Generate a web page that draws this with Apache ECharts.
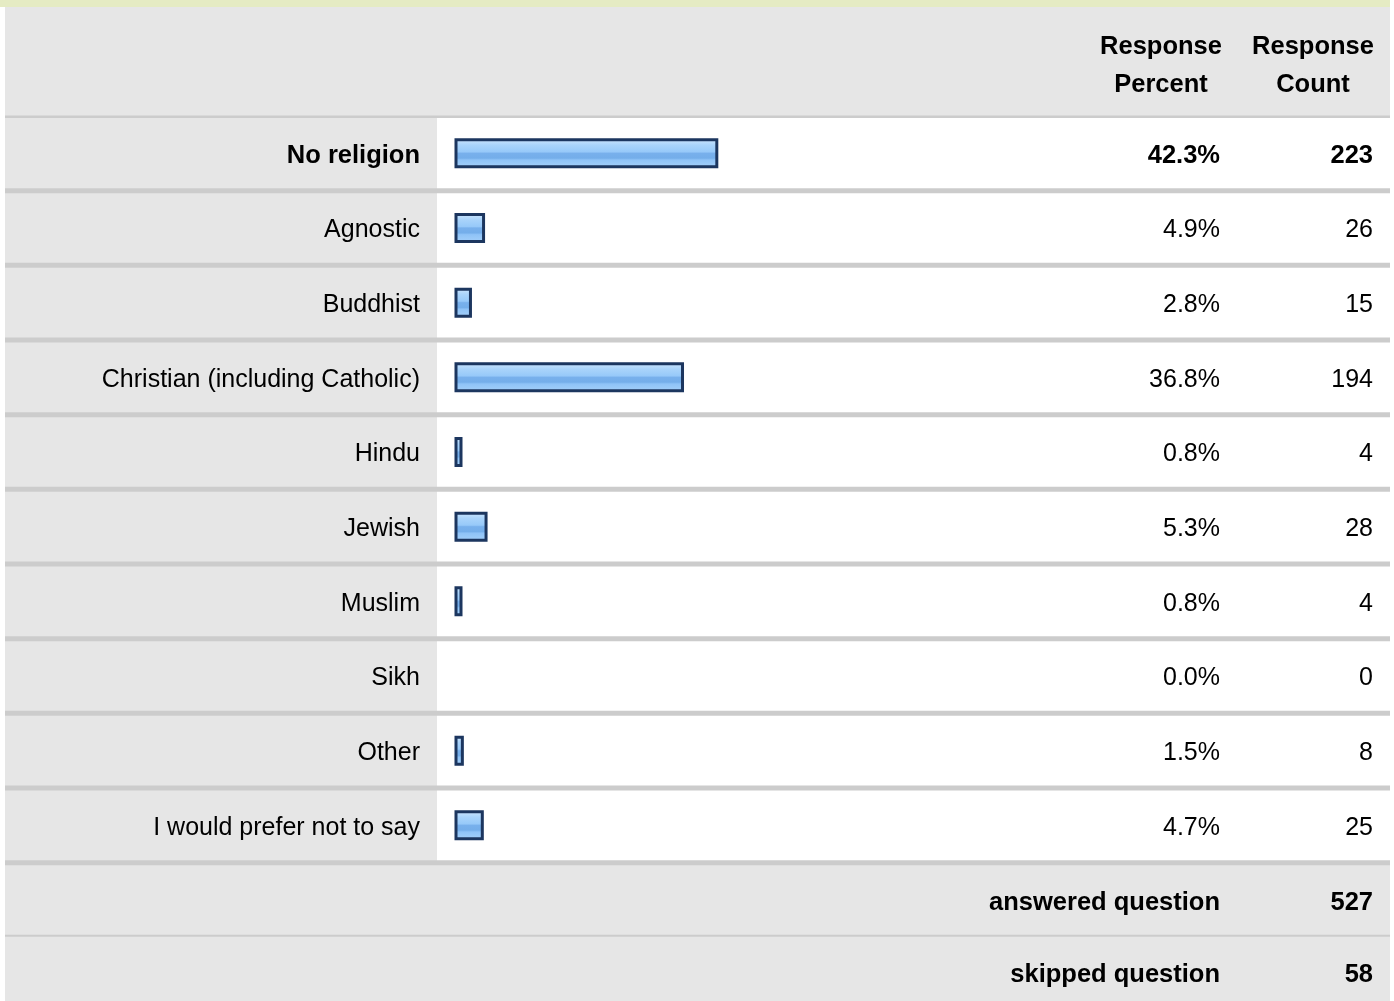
<!DOCTYPE html>
<html>
<head>
<meta charset="utf-8">
<script src="https://cdn.jsdelivr.net/npm/echarts@6/dist/echarts.min.js"></script>
<style>
html,body{margin:0;padding:0;background:#fff;}
#main{width:1394px;height:1001px;}
</style>
</head>
<body>
<div id="main"></div>
<script>
const categories = ['No religion','Agnostic','Buddhist','Christian (including Catholic)','Hindu','Jewish','Muslim','Sikh','Other','I would prefer not to say'];
const percents = [42.3, 4.9, 2.8, 36.8, 0.8, 5.3, 0.8, 0.0, 1.5, 4.7];
const counts = [223, 26, 15, 194, 4, 28, 4, 0, 8, 25];
const headerLabels = ['Response\nPercent', 'Response\nCount'];
const footerLabels = ['answered question', 'skipped question'];
const footerValues = [527, 58];

const FONT = '"Liberation Sans", Arial, sans-serif';
const FS = 25;
const FSB = 25.5;
const chart = echarts.init(document.getElementById('main'), null, {renderer: 'canvas'});

function boldFirst(v, i) { return i === 0 ? '{b|' + v + '}' : '{n|' + v + '}'; }
const rich = {
  b: {fontWeight: 'bold', fontSize: FSB, fontFamily: FONT, color: '#000', padding: [5, 0, 0, 0]},
  n: {fontSize: FS, fontFamily: FONT, color: '#000', padding: [5, 0, 0, 0]}
};
function catAxis(data, extra) {
  return Object.assign({
    type: 'category', data: data, inverse: true,
    axisLine: {show: false}, axisTick: {show: false}, splitLine: {show: false}
  }, extra);
}

const GRID_TOP = 116, GRID_H = 746.7;

const option = {
  animation: false,
  grid: {left: 454.5, right: 4, top: GRID_TOP, height: GRID_H, containLabel: false},
  xAxis: {type: 'value', min: 0, max: 150, show: false},
  yAxis: [
    catAxis(categories, {position: 'left', axisLabel: {margin: 34.5, formatter: boldFirst, rich: rich}}),
    catAxis(percents.map(p => p.toFixed(1) + '%'), {position: 'right', offset: 0,
      axisLabel: {inside: true, align: 'right', margin: 170, formatter: boldFirst, rich: rich}}),
    catAxis(counts.map(String), {position: 'right', offset: 0,
      axisLabel: {inside: true, align: 'right', margin: 17, formatter: boldFirst, rich: rich}})
  ],
  series: [{
    type: 'bar',
    yAxisIndex: 0,
    silent: true,
    barWidth: 30,
    barMinHeight: 8,
    data: percents.map(p => p === 0 ? {value: p, itemStyle: {borderWidth: 0, opacity: 0}} : p),
    itemStyle: {
      borderColor: '#1c365f',
      borderWidth: 3,
      color: new echarts.graphic.LinearGradient(0, 0, 0, 1, [
        {offset: 0, color: '#d2e8fd'},
        {offset: 0.22, color: '#aad4fb'},
        {offset: 0.45, color: '#97c9f9'},
        {offset: 0.5, color: '#78b0ec'},
        {offset: 0.66, color: '#74aeea'},
        {offset: 0.72, color: '#8fc3f7'},
        {offset: 1, color: '#a6d1fa'}
      ])
    }
  }]
};
chart.setOption(option);

// Layout graphics (backgrounds, separators, header, footer) derived from the category scale
const yc = i => chart.convertToPixel({yAxisIndex: 0}, i);
const band = yc(1) - yc(0);
const lastBoundary = yc(categories.length - 1) + band / 2;
const g = [];
g.push({type: 'rect', z: -10, shape: {x: 0, y: 0, width: 1390, height: 7}, style: {fill: '#e5ebc3'}});
g.push({type: 'rect', z: -10, shape: {x: 5, y: 7, width: 1385, height: 994}, style: {fill: '#e6e6e6'}});
g.push({type: 'rect', z: -9, shape: {x: 437, y: GRID_TOP, width: 953, height: lastBoundary - GRID_TOP}, style: {fill: '#ffffff'}});
g.push({type: 'rect', z: -8, shape: {x: 5, y: GRID_TOP - 0.5, width: 1385, height: 2.5}, style: {fill: '#cccccc'}});
for (let i = 0; i < categories.length; i++) {
  const y = yc(i) + band / 2;
  g.push({type: 'rect', z: -8, shape: {x: 5, y: y - 2.5, width: 1385, height: 5}, style: {fill: '#cccccc'}});
}
const footTop = lastBoundary + 2.5;
const footRow = 70.5;
g.push({type: 'rect', z: -8, shape: {x: 5, y: footTop + footRow - 1, width: 1385, height: 2}, style: {fill: '#cccccc'}});
const footCY = [903, 975];
footerLabels.forEach((t, i) => {
  const cy = footCY[i];
  g.push({type: 'text', z: 5, style: {text: t, x: 1220, y: cy, align: 'right', verticalAlign: 'middle',
    font: 'bold ' + FSB + 'px ' + FONT, fill: '#000'}});
  g.push({type: 'text', z: 5, style: {text: String(footerValues[i]), x: 1373, y: cy, align: 'right', verticalAlign: 'middle',
    font: 'bold ' + FSB + 'px ' + FONT, fill: '#000'}});
});
const headerX = [1161, 1313];
headerLabels.forEach((t, i) => {
  g.push({type: 'text', z: 5, style: {text: t, x: headerX[i], y: 66, align: 'center', verticalAlign: 'middle',
    font: 'bold ' + FSB + 'px ' + FONT, lineHeight: 38, fill: '#000'}});
});
chart.setOption({graphic: {elements: g}});
</script>
</body>
</html>
